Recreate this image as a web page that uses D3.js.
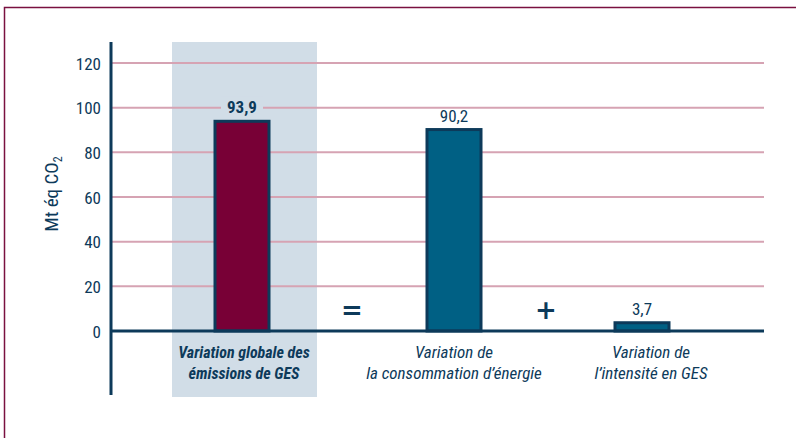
<!DOCTYPE html>
<html><head><meta charset="utf-8">
<script src="https://cdn.jsdelivr.net/npm/d3@7"></script>
<style>body{margin:0;background:#fff}</style>
</head><body>
<svg id="c" width="796" height="438"></svg>
<script>
const categories = [["Variation globale des","émissions de GES"],["Variation de","la consommation d’énergie"],["Variation de","l’intensité en GES"]];
const values = [93.9, 90.2, 3.7];
const valueLabels = ["93,9","90,2","3,7"];
const fills = ["#780036","#006084","#006084"];
const yTicks = [0,20,40,60,80,100,120];
const operators = ["=","+"];

const svg = d3.select("#c");
const F = "'Roboto Condensed','Liberation Sans Narrow','Arial Narrow',Roboto,sans-serif";
const dark = "#0d3a5a";

// frame
svg.append("path").attr("d","M4.5,438 V7.5 H796").attr("fill","none").attr("stroke","#7a1040").attr("stroke-width",1.5);

const y = d3.scaleLinear().domain([0,120]).range([331,63]);
const centers = [242,454,642];
const labelCenters = [244,454,651];

// highlight
svg.append("rect").attr("x",172).attr("y",42).attr("width",145).attr("height",355).attr("fill","#d1dde7");

// gridlines
svg.append("g").selectAll("line").data(yTicks.filter(d=>d>0)).join("line")
  .attr("x1",111).attr("x2",764).attr("y1",d=>y(d)).attr("y2",d=>y(d))
  .attr("stroke","#d6a3b3").attr("stroke-width",2);

// y axis
const ax = svg.append("g").attr("transform","translate(111,0)").call(d3.axisLeft(y).tickValues(yTicks).tickSize(0).tickPadding(10));
ax.select(".domain").remove();
ax.selectAll("text").attr("font-family",F).attr("font-size",17).attr("fill",dark).attr("dy","0.36em");
svg.append("line").attr("x1",111).attr("x2",111).attr("y1",42).attr("y2",395).attr("stroke",dark).attr("stroke-width",3);

// y title
const yt = svg.append("text").attr("transform","translate(58,194) rotate(-90)").attr("text-anchor","middle")
  .attr("font-family",F).attr("font-size",19).attr("fill",dark);
yt.append("tspan").text("Mt éq CO");
yt.append("tspan").text("2").attr("font-size",12).attr("dy",4);

// bars
const bw = 54;
svg.append("g").selectAll("rect").data(values).join("rect")
  .attr("x",(d,i)=>centers[i]-bw/2).attr("y",d=>y(d)).attr("width",bw).attr("height",d=>y(0)-y(d))
  .attr("fill",(d,i)=>fills[i]).attr("stroke",dark).attr("stroke-width",3);

// baseline
svg.append("line").attr("x1",110).attr("x2",764).attr("y1",y(0)).attr("y2",y(0)).attr("stroke",dark).attr("stroke-width",3);

// value labels
values.forEach((v,i)=>{
  if(i===0){
    svg.append("rect").attr("x",centers[i]-21).attr("y",y(v)-25).attr("width",42).attr("height",19).attr("fill","#d1dde7");
  }
  svg.append("text").attr("x",centers[i]).attr("y",y(v)-8).attr("text-anchor","middle")
    .attr("font-family",F).attr("font-size",17).attr("font-weight",i===0?"bold":"normal").attr("fill",dark).text(valueLabels[i]);
});

// operators
const opX = [352,546];
operators.forEach((o,i)=>{
  svg.append("text").attr("x",opX[i]).attr("y",319).attr("text-anchor","middle")
    .attr("font-family","'DejaVu Sans',sans-serif").attr("font-size",26).attr("font-weight","bold").attr("fill",dark).text(o);
});

// category labels
categories.forEach((lines,i)=>{
  lines.forEach((l,j)=>{
    svg.append("text").attr("x",labelCenters[i]).attr("y",358+j*21).attr("text-anchor","middle")
      .attr("font-family",F).attr("font-size",i===0?16:17).attr("font-style","italic")
      .attr("font-weight",i===0?"bold":"normal").attr("fill",dark).text(l);
  });
});
</script>
</body></html>
